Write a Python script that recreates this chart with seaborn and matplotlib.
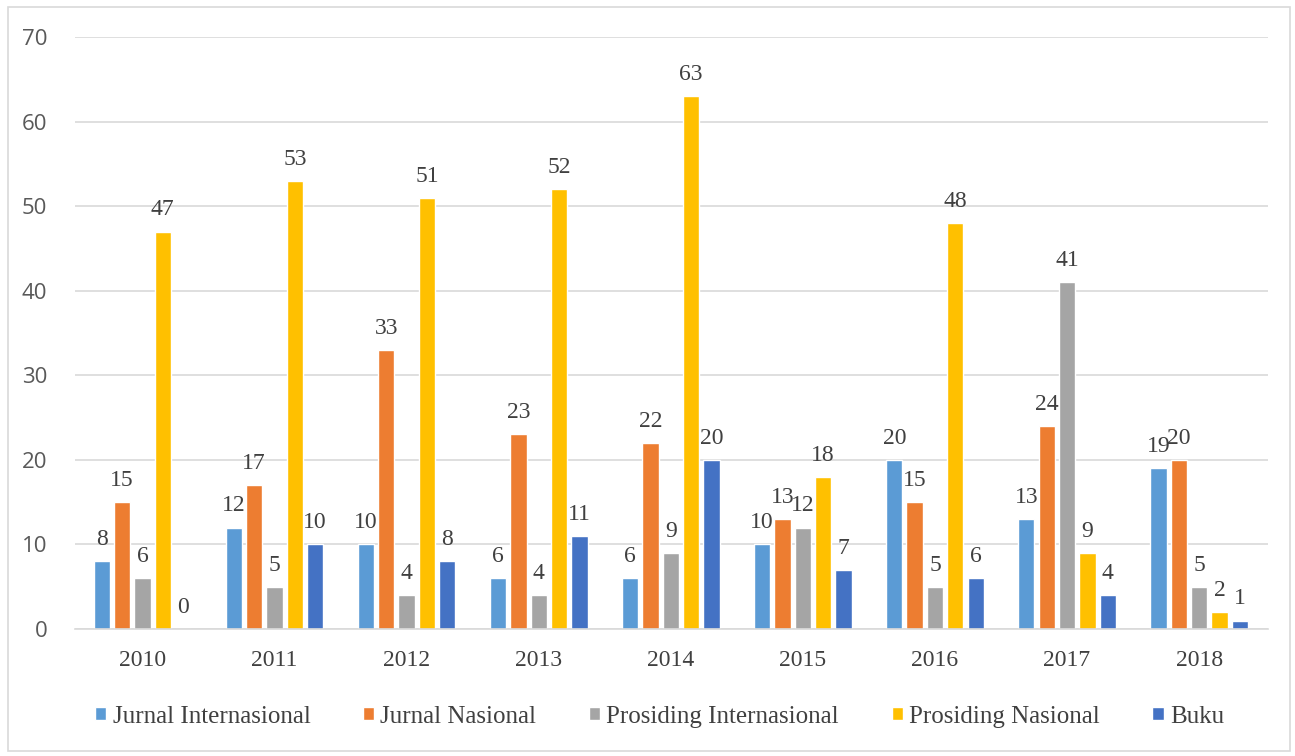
import matplotlib
matplotlib.use("Agg")
import matplotlib.pyplot as plt
import seaborn as sns
import pandas as pd
from matplotlib.patches import Rectangle

years = ["2010", "2011", "2012", "2013", "2014", "2015", "2016", "2017", "2018"]
series_names = ["Jurnal Internasional", "Jurnal Nasional", "Prosiding Internasional",
                "Prosiding Nasional", "Buku"]
jurnal_internasional = [8, 12, 10, 6, 6, 10, 20, 13, 19]
jurnal_nasional = [15, 17, 33, 23, 22, 13, 15, 24, 20]
prosiding_internasional = [6, 5, 4, 4, 9, 12, 5, 41, 5]
prosiding_nasional = [47, 53, 51, 52, 63, 18, 48, 9, 2]
buku = [0, 10, 8, 11, 20, 7, 6, 4, 1]
colors = ["#5B9BD5", "#ED7D31", "#A5A5A5", "#FFC000", "#4472C4"]

rows = []
for name, vals in zip(series_names, [jurnal_internasional, jurnal_nasional,
                                     prosiding_internasional, prosiding_nasional, buku]):
    for y, v in zip(years, vals):
        rows.append({"Tahun": y, "Jenis": name, "Jumlah": v})
df = pd.DataFrame(rows)

sns.set_theme(style="white")
serif = ["Liberation Serif", "DejaVu Serif"]
sansf = ["Open Sans", "DejaVu Sans"]

fig = plt.figure(figsize=(12.95, 7.56), dpi=100)
ax = fig.add_axes([0.058, 0.168, 0.921, 0.783])

sns.barplot(data=df, x="Tahun", y="Jumlah", hue="Jenis", hue_order=series_names,
            order=years, palette=colors, width=0.77, gap=0.2, ax=ax,
            errorbar=None, saturation=1, legend=True)

for cont in ax.containers:
    ax.bar_label(cont, labels=[f"{int(v)}" for v in cont.datavalues], padding=8,
                 fontsize=17, color="#404040", family=serif)

ax.set_ylim(0, 70)
ax.set_yticks(range(0, 71, 10))
ax.yaxis.grid(True, color="#D9D9D9", linewidth=1.2)
ax.set_axisbelow(True)
ax.set_xlabel("")
ax.set_ylabel("")
for s in ["top", "right", "left"]:
    ax.spines[s].set_visible(False)
ax.spines["bottom"].set_color("#D9D9D9")
ax.spines["bottom"].set_linewidth(1.2)
ax.tick_params(axis="both", length=0)
ax.tick_params(axis="y", pad=20)
ax.tick_params(axis="x", pad=15)
for t in ax.get_yticklabels():
    t.set_family(sansf)
    t.set_fontsize(16)
    t.set_color("#595959")
for t in ax.get_xticklabels():
    t.set_family(serif)
    t.set_fontsize(17)
    t.set_color("#404040")
ax.set_xlim(-0.51, 8.52)

handles, labels = ax.get_legend_handles_labels()
ax.legend(handles, labels, loc="center", bbox_to_anchor=(0.49, -0.148), ncol=5,
          frameon=False, prop={"family": serif, "size": 18}, handlelength=0.45,
          handleheight=0.45, handletextpad=0.25, columnspacing=2.1, labelcolor="#404040")

fig.patches.append(Rectangle((0.006, 0.006), 0.99, 0.985, transform=fig.transFigure,
                             fill=False, edgecolor="#D9D9D9", linewidth=1.2))

fig.savefig("out.png", dpi=100)
